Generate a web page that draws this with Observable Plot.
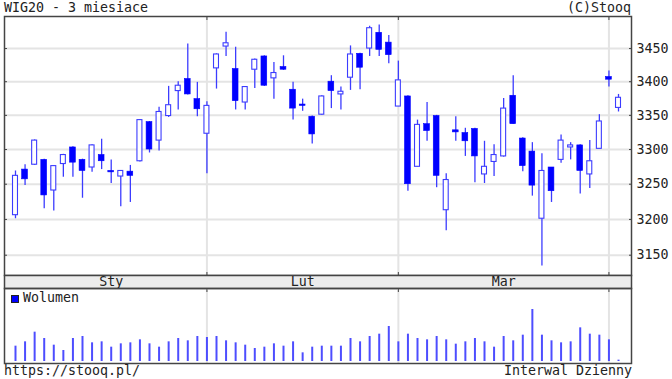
<!DOCTYPE html>
<html><head><meta charset="utf-8">
<script src="https://cdn.jsdelivr.net/npm/d3@7"></script>
<script src="https://cdn.jsdelivr.net/npm/@observablehq/plot@0.6"></script>
<style>
html,body{margin:0;padding:0;background:#fff;}
#wrap{position:relative;width:672px;height:379px;overflow:hidden;font-family:"DejaVu Sans Mono",monospace;font-size:13.3px;color:#222;}
.t{position:absolute;line-height:13.3px;white-space:pre;}
.p{position:absolute;left:0;}
.p svg{display:block;overflow:visible;background:transparent;}
#sq{position:absolute;left:11px;top:295px;width:8px;height:8px;box-sizing:border-box;background:#0000ff;border:1px solid #222;}
</style></head><body><div id="wrap">
<div class="t" style="left:4px;top:1px">WIG20 - 3 miesiace</div>
<div class="t" style="right:41px;top:1px">(C)Stooq</div>
<div class="p" id="main" style="top:0px"></div>
<div class="p" id="band" style="top:275px"></div>
<div class="p" id="vol" style="top:288px"></div>
<div id="sq"></div>
<div class="t" style="left:23px;top:291px">Wolumen</div>
<div class="t" style="left:4px;top:364px">https://stooq.pl/</div>
<div class="t" style="right:40px;top:364px">Interwal Dzienny</div>
</div>
<script>
const dates = [
"2026-01-02","2026-01-05","2026-01-07","2026-01-08","2026-01-09","2026-01-12","2026-01-13","2026-01-14","2026-01-15","2026-01-16",
"2026-01-19","2026-01-20","2026-01-21","2026-01-22","2026-01-23","2026-01-26","2026-01-27","2026-01-28","2026-01-29","2026-01-30",
"2026-02-02","2026-02-03","2026-02-04","2026-02-05","2026-02-06","2026-02-09","2026-02-10","2026-02-11","2026-02-12","2026-02-13",
"2026-02-16","2026-02-17","2026-02-18","2026-02-19","2026-02-20","2026-02-23","2026-02-24","2026-02-25","2026-02-26","2026-02-27",
"2026-03-02","2026-03-03","2026-03-04","2026-03-05","2026-03-06","2026-03-09","2026-03-10","2026-03-11","2026-03-12","2026-03-13",
"2026-03-16","2026-03-17","2026-03-18","2026-03-19","2026-03-20","2026-03-23","2026-03-24","2026-03-25","2026-03-26","2026-03-27",
"2026-03-30","2026-03-31","2026-04-01","2026-04-02"];
const open = [3206,3271,3278,3285,3241,3279,3303,3285,3274,3292,3269,3261,3268,3283,3340,3313,3349,3386,3404,3374,
3323,3420,3453,3419,3369,3418,3438,3405,3422,3388,3366,3348,3351,3400,3381,3406,3442,3450,3474,3459,
3363,3378,3275,3337,3349,3213,3328,3324,3330,3264,3282,3290,3379,3316,3297,3201,3274,3285,3303,3306,3264,3301,
3407,3361];
const high = [3269,3278,3314,3286,3277,3293,3304,3286,3307,3315,3285,3269,3277,3344,3341,3362,3393,3400,3457,3399,
3370,3442,3475,3452,3393,3434,3439,3429,3439,3399,3374,3349,3379,3409,3392,3454,3443,3484,3486,3470,
3431,3379,3343,3369,3350,3265,3348,3331,3331,3312,3307,3375,3409,3317,3310,3294,3274,3321,3310,3307,3313,3351,
3416,3381];
const low = [3201,3248,3277,3215,3212,3260,3260,3230,3267,3271,3251,3218,3224,3282,3295,3298,3347,3358,3380,3348,
3265,3389,3438,3358,3358,3390,3393,3374,3417,3343,3356,3308,3350,3360,3358,3387,3388,3438,3438,3427,
3363,3240,3275,3312,3245,3184,3312,3290,3252,3251,3261,3289,3337,3268,3233,3135,3224,3280,3285,3236,3244,3301,
3392,3355];
const close = [3262,3257,3313,3234,3276,3292,3281,3269,3306,3283,3267,3269,3262,3343,3300,3355,3365,3394,3381,3359,
3364,3441,3458,3371,3392,3433,3394,3413,3418,3360,3364,3322,3378,3386,3385,3441,3421,3481,3448,3440,
3402,3250,3336,3327,3262,3256,3325,3312,3290,3275,3292,3360,3337,3276,3248,3269,3240,3313,3306,3269,3283,3341,
3403,3376];
const volume = [46,59,88,69,49,33,69,75,56,59,43,53,56,65,53,43,59,69,62,75,
72,75,62,56,49,39,43,53,46,59,26,43,46,46,46,69,59,75,82,105,
59,82,69,65,75,65,52,59,69,59,43,75,62,79,156,79,62,56,59,101,82,79,
65,4];
const yTicks = [3150,3200,3250,3300,3350,3400,3450];
const monthNames = ["Sty","Lut","Mar"];
const monthStarts = ["2026-01-02","2026-02-02","2026-03-02","2026-04-01"];

const candles = dates.map((d,i)=>({date:d, open:open[i], high:high[i], low:low[i], close:close[i], volume:volume[i]}));
const up = candles.filter(c=>c.close>=c.open);
const down = candles.filter(c=>c.close<c.open);
const separators = monthStarts.slice(1);
const monthLabels = monthNames.map((n,k)=>{
  const a = dates.indexOf(monthStarts[k]), b = dates.indexOf(monthStarts[k+1]);
  return {name:n, at:dates[Math.round((a+b)/2)]};
});

const W = 672, ML = 4, MR = 41;
const xOpt = {type:"band", domain:dates, range:[10.21,622.79], padding:0};
const font = {fontFamily:"DejaVu Sans Mono, monospace", fontSize:"13.3px", color:"#222", background:"transparent", overflow:"visible"};
const BLUE_LINE = "#3c3cff", GRID = "#e4e4e4", FRAME = "#444";

const main = Plot.plot({
  width:W, height:275, marginTop:16, marginBottom:0, marginLeft:ML, marginRight:MR,
  style:font,
  x:{...xOpt},
  y:{type:"log", domain:[3122,3499]},
  marks:[
    Plot.ruleY(yTicks, {stroke:GRID, strokeWidth:2}),
    Plot.ruleX(separators, {stroke:GRID, strokeWidth:2}),
    Plot.ruleX(candles, {x:"date", y1:"low", y2:"high", stroke:BLUE_LINE, strokeWidth:1.3}),
    Plot.barY(up, {x:"date", y1:"open", y2:"close", fill:"white", stroke:BLUE_LINE, strokeWidth:1.1, insetLeft:2.3, insetRight:2.3}),
    Plot.barY(down, {x:"date", y1:"open", y2:"close", fill:"#0000ff", stroke:"#0000ff", strokeWidth:0.6, insetLeft:1.9, insetRight:1.9}),
    Plot.axisY({anchor:"right", ticks:yTicks, tickSize:0, tickPadding:5, tickFormat:d3.format("d"), label:null, fill:"#222"}),
    Plot.axisY({anchor:"right", ticks:yTicks, tickSize:-3, tickFormat:()=>"", label:null, stroke:FRAME}),
    Plot.axisY({anchor:"left", ticks:yTicks, tickSize:-3, tickFormat:()=>"", label:null, stroke:FRAME}),
    Plot.axisX({anchor:"top", ticks:separators, tickSize:-3, tickFormat:()=>"", label:null, stroke:FRAME}),
    Plot.axisX({anchor:"bottom", ticks:separators, tickSize:-3, tickFormat:()=>"", label:null, stroke:FRAME}),
    Plot.frame({stroke:FRAME, strokeWidth:1.5})
  ]
});
document.getElementById("main").appendChild(main);

const band = Plot.plot({
  width:W, height:13, marginTop:0, marginBottom:0, marginLeft:ML, marginRight:MR,
  style:font,
  x:{...xOpt, axis:null},
  marks:[
    Plot.frame({fill:"#ececec", stroke:FRAME, strokeWidth:1.5}),
    Plot.text(monthLabels, {x:"at", text:"name", frameAnchor:"middle", fill:"#222"})
  ]
});
document.getElementById("band").appendChild(band);

const vol = Plot.plot({
  width:W, height:75, marginTop:0, marginBottom:0, marginLeft:ML, marginRight:MR,
  style:font,
  x:{...xOpt},
  y:{domain:[0,219], range:[73,0], axis:null},
  marks:[
    Plot.ruleX(separators, {stroke:GRID, strokeWidth:2}),
    Plot.ruleX(candles, {x:"date", y1:0, y2:"volume", stroke:"#4d4dff", strokeWidth:2}),
    Plot.axisX({anchor:"top", ticks:separators, tickSize:-3, tickFormat:()=>"", label:null, stroke:FRAME}),
    Plot.frame({stroke:FRAME, strokeWidth:1.5})
  ]
});
document.getElementById("vol").appendChild(vol);
</script>
</body></html>
